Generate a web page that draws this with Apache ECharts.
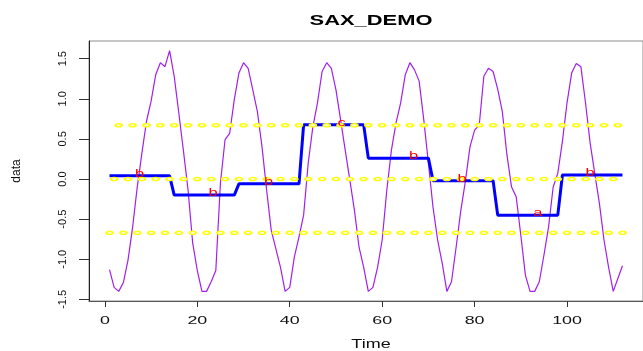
<!DOCTYPE html>
<html><head><meta charset="utf-8">
<script src="https://cdn.jsdelivr.net/npm/echarts@6/dist/echarts.min.js"></script>
<style>html,body{margin:0;padding:0;background:#fff}#c{width:643px;height:351px}</style>
</head><body><div id="c"></div>
<script>
// ---- data ----
const timeSeries = [
  -1.13,-1.35,-1.40,-1.29,-1.01,-0.60,-0.10,0.32,0.72,0.97,1.30,1.45,1.40,1.60,
  1.28,0.82,0.35,-0.14,-0.80,-1.14,-1.40,-1.40,-1.28,-1.14,-0.05,0.49,0.57,0.99,
  1.32,1.45,1.38,1.11,0.84,0.40,-0.14,-0.64,-0.87,-1.10,-1.40,-1.35,-0.97,-0.72,
  -0.45,0.20,0.65,0.95,1.34,1.45,1.38,1.11,0.74,0.36,-0.01,-0.39,-0.85,-1.10,
  -1.40,-1.35,-1.10,-0.76,-0.14,0.36,0.70,0.95,1.30,1.45,1.36,1.22,0.74,0.20,
  -0.35,-0.76,-1.05,-1.40,-1.28,-0.85,-0.40,-0.03,0.40,0.61,0.67,1.28,1.38,1.34,
  1.12,0.84,0.30,-0.10,-0.22,-0.70,-1.20,-1.40,-1.40,-1.28,-0.95,-0.60,-0.10,0.07,
  0.47,0.95,1.32,1.44,1.40,0.95,0.45,0.07,-0.30,-0.76,-1.10,-1.40,-1.24,-1.08
];
const paaValues = [0.04,-0.20,-0.06,0.675,0.26,-0.02,-0.45,0.05];
const segmentLength = 14;
const saxLetters = ['b','b','b','c','b','b','a','b'];
const letterTimes = [7.5,23.4,35.4,51.2,66.8,77.3,93.7,105];
const breakpoints = [0.67, 0, -0.67];
const breakpointStart = [3, 2, 1];
const breakpointEnd = [111, 110, 112];
const breakpointStep = 3;
const xTicks = [0,20,40,60,80,100];
const yTicks = [-1.5,-1,-0.5,0,0.5,1,1.5];
const titleText = 'SAX_DEMO';
const xName = 'Time';
const yName = 'data';

// ---- build series data ----
const seriesData = timeSeries.map((v,i)=>[i+1,v]);
const paaData = [];
paaValues.forEach((v,i)=>{
  paaData.push([i*segmentLength+1, v]);
  paaData.push([i*segmentLength+segmentLength, v]);
});
const bpData = [];
breakpoints.forEach((b,k)=>{
  for(let t=breakpointStart[k]; t<=breakpointEnd[k]; t+=breakpointStep) bpData.push([t,b]);
});
const letterData = letterTimes.map((t,i)=>[t, paaValues[i]]);

const FONT = '"Liberation Sans", Arial, Helvetica, sans-serif';
const chart = echarts.init(document.getElementById('c'), null, {renderer:'canvas'});
chart.setOption({
  animation:false,
  backgroundColor:'#fff',
  grid:{left:89, top:41, width:560, height:260, show:true, borderColor:'#8c8c8c', borderWidth:1},
  xAxis:{type:'value', min:-3.44, max:116.44,
    splitLine:{show:false},
    axisLine:{show:true, onZero:false, lineStyle:{color:'#555', width:1}},
    axisTick:{show:true, customValues:xTicks, length:6, lineStyle:{color:'#333'}},
    axisLabel:{show:false}},
  yAxis:{type:'value', min:-1.52, max:1.72,
    splitLine:{show:false},
    axisLine:{show:true, onZero:false, lineStyle:{color:'#222', width:1}},
    axisTick:{show:true, customValues:yTicks, length:10, lineStyle:{color:'#333'}},
    axisLabel:{show:true, customValues:yTicks, rotate:90, margin:21, fontSize:11, color:'#111',
      fontFamily:FONT, formatter:v=>Number(v).toFixed(1)}},
  series:[
    {type:'line', data:seriesData, showSymbol:false, symbol:'none',
      lineStyle:{color:'#A020F0', width:1.2}, z:2},
    {type:'line', data:paaData, showSymbol:false, symbol:'none',
      lineStyle:{color:'#0000FF', width:3}, z:3},
    {type:'scatter', data:bpData, symbol:'circle', symbolSize:[6.4,3.4],
      itemStyle:{color:'#fffff0', borderColor:'#FFFF00', borderWidth:1.7, opacity:1}, z:4},
    {type:'custom', data:letterData, z:5,
      renderItem:(params, api)=>{
        const p = api.coord([api.value(0), api.value(1)]);
        return {type:'text', x:p[0], y:p[1]-2, scaleX:1.5,
          style:{text:saxLetters[params.dataIndex], fill:'#FF0000', fontSize:11, fontFamily:FONT,
            align:'center', verticalAlign:'middle', textAlign:'center', textVerticalAlign:'middle'}};
      }}
  ]
});

// text elements stretched like the reference rendering
const els = [];
els.push({type:'text', x:371, y:21, scaleX:1.46, silent:true,
  style:{text:titleText, fill:'#000', fontSize:15, fontWeight:'bold', fontFamily:FONT,
    align:'center', verticalAlign:'middle', textAlign:'center', textVerticalAlign:'middle'}});
els.push({type:'text', x:371, y:345, scaleX:1.44, silent:true,
  style:{text:xName, fill:'#111', fontSize:12.5, fontFamily:FONT,
    align:'center', verticalAlign:'middle', textAlign:'center', textVerticalAlign:'middle'}});
els.push({type:'text', x:17, y:171, rotation:Math.PI/2, silent:true,
  style:{text:yName, fill:'#111', fontSize:12, fontFamily:FONT,
    align:'center', verticalAlign:'middle', textAlign:'center', textVerticalAlign:'middle'}});
xTicks.forEach(v=>{
  const px = chart.convertToPixel({xAxisIndex:0}, v);
  els.push({type:'text', x:px, y:321.5, scaleX:1.7, silent:true,
    style:{text:String(v), fill:'#111', fontSize:10.5, fontFamily:FONT,
      align:'center', verticalAlign:'middle', textAlign:'center', textVerticalAlign:'middle'}});
});
chart.setOption({graphic:{elements:els}});
</script></body></html>
